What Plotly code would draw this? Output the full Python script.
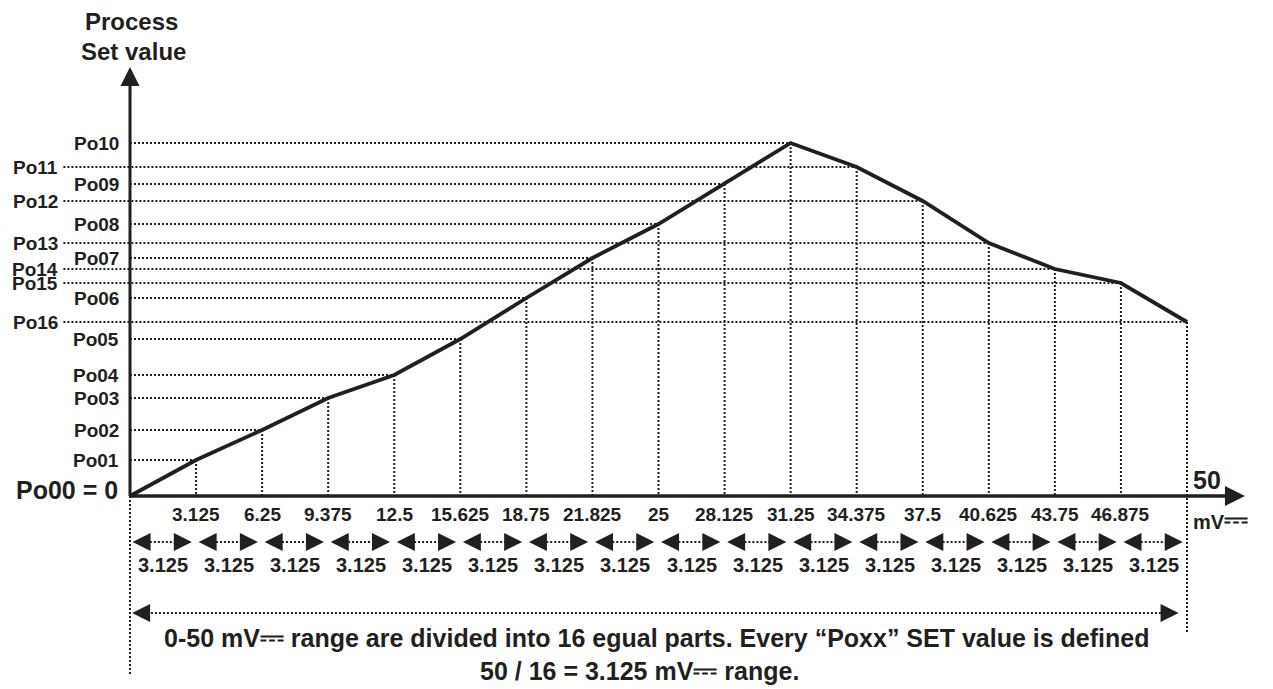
import plotly.graph_objects as go

INK = "#231f20"
FONT = "Liberation Sans, Arial, sans-serif"

# mV positions of the 16 equal parts (0 .. 50)
STEP_MV = [0, 3.125, 6.25, 9.375, 12.5, 15.625, 18.75, 21.875, 25,
           28.125, 31.25, 34.375, 37.5, 40.625, 43.75, 46.875, 50]
# tick labels as printed under the axis (the typo "21.825" is in the original)
TICK_LABELS = ["3.125", "6.25", "9.375", "12.5", "15.625", "18.75", "21.825",
               "25", "28.125", "31.25", "34.375", "37.5", "40.625", "43.75",
               "46.875"]
PO_NAMES = ["Po00", "Po01", "Po02", "Po03", "Po04", "Po05", "Po06", "Po07",
            "Po08", "Po09", "Po10", "Po11", "Po12", "Po13", "Po14", "Po15",
            "Po16"]
# set values (arbitrary units)
PO_VALUES = [0, 36, 66, 98, 121, 157, 198, 238, 272, 312, 353, 329, 295,
             253, 227, 213, 174]
PART_LABELS = ["3.125"] * 16

DC = '<span style="font-size:30px">⎓</span>'

PX = 1057 / 50  # pixels per mV
# the page body adds an 8px offset, so the origin sits at 122/488 in the figure
X0 = -122 / PX
X1 = (1273 - 122) / PX

fig = go.Figure()
shapes = []
annotations = []


def dotted(x0, y0, x1, y1, width=2):
    shapes.append(dict(type="line", x0=x0, y0=y0, x1=x1, y1=y1,
                       line=dict(color=INK, width=width, dash="2px,2px")))


def text(x, y, s, size, xanchor="center"):
    annotations.append(dict(x=x, y=y, text="<b>" + s + "</b>", showarrow=False,
                            xanchor=xanchor, yanchor="middle",
                            font=dict(family=FONT, size=size, color=INK)))


# guide lines from each set point
for i in range(1, len(STEP_MV)):
    x, y = STEP_MV[i], PO_VALUES[i]
    dotted(x, y, x, -137 if i == 16 else 0)
    dotted(0 if i <= 10 else -3.15, y, x, y)
dotted(0, 0, 0, -180)

# axes
shapes.append(dict(type="line", x0=0, y0=0, x1=52.0, y1=0,
                   line=dict(color=INK, width=3.5)))
shapes.append(dict(type="line", x0=0, y0=0, x1=0, y1=415,
                   line=dict(color=INK, width=3)))

# part arrows
left_x, right_x = [], []
for k in range(16):
    a, b = STEP_MV[k], STEP_MV[k + 1]
    left_x.append(a + 0.12)
    right_x.append(b - 0.2)
    dotted(a + 0.75, -46, b - 0.8, -46)
    text((a + b) / 2, -69, PART_LABELS[k], 20)
dotted(0.8, -117, 49.2, -117)

fig.add_trace(go.Scatter(x=STEP_MV, y=PO_VALUES, mode="lines",
                         line=dict(color=INK, width=3.8), hoverinfo="skip"))
fig.add_trace(go.Scatter(x=left_x + [0.1], y=[-46] * 16 + [-117], mode="markers",
                         marker=dict(symbol="arrow-left", size=18, color=INK),
                         hoverinfo="skip"))
fig.add_trace(go.Scatter(x=right_x + [49.6], y=[-46] * 16 + [-117], mode="markers",
                         marker=dict(symbol="arrow-right", size=18, color=INK),
                         hoverinfo="skip"))
fig.add_trace(go.Scatter(x=[52.74], y=[0], mode="markers",
                         marker=dict(symbol="arrow-right", size=20, color=INK),
                         hoverinfo="skip"))
fig.add_trace(go.Scatter(x=[0], y=[429], mode="markers",
                         marker=dict(symbol="arrow-up", size=19, color=INK),
                         hoverinfo="skip"))

# labels
text(0.05, 475, "Process", 24)
text(0.15, 445, "Set value", 24)
for i in range(1, len(PO_NAMES)):
    text(-0.42 if i <= 10 else -3.3, PO_VALUES[i], PO_NAMES[i], 19, "right")
text(-0.45, 6, "Po00 = 0", 25, "right")
for k, lab in enumerate(TICK_LABELS):
    text(STEP_MV[k + 1], -18, lab, 19)
text(50.2, 16, "50", 25, "left")
text(50.2, -22, "mV" + DC, 20, "left")
text(24.9, -140, "0-50 mV" + DC + " range are divided into 16 egual parts. "
     "Every “Poxx” SET value is defined", 25)
text(24.1, -173, "50 / 16 = 3.125 mV" + DC + " range.", 25)

fig.update_layout(
    width=1273, height=689,
    margin=dict(l=0, r=0, t=0, b=0),
    paper_bgcolor="white", plot_bgcolor="white",
    showlegend=False,
    shapes=shapes, annotations=annotations,
    xaxis=dict(range=[X0, X1], visible=False, fixedrange=True),
    yaxis=dict(range=[488 - 689, 488], visible=False, fixedrange=True),
)

fig.write_html("out.html")
